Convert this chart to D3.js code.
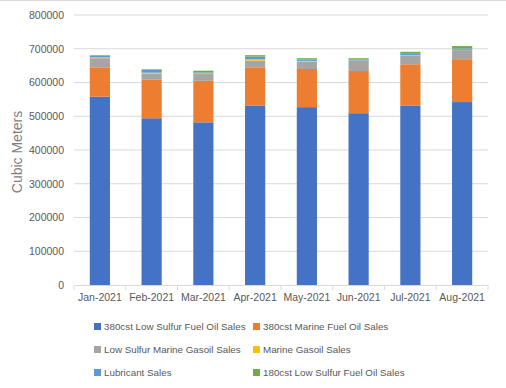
<!DOCTYPE html>
<html>
<head>
<meta charset="utf-8">
<script src="https://cdn.jsdelivr.net/npm/d3@7"></script>
<style>
  body { margin: 0; background: #fff; }
  text { font-family: "Liberation Sans", Arial, sans-serif; }
</style>
</head>
<body>
<svg width="506" height="388"></svg>
<script>
// months along the x axis
const months = ['Jan-2021', 'Feb-2021', 'Mar-2021', 'Apr-2021', 'May-2021', 'Jun-2021', 'Jul-2021', 'Aug-2021'];
// series, bottom to top of each stack
const seriesNames = ['380cst Low Sulfur Fuel Oil Sales', '380cst Marine Fuel Oil Sales',
  'Low Sulfur Marine Gasoil Sales', 'Marine Gasoil Sales', 'Lubricant Sales', '180cst Low Sulfur Fuel Oil Sales'];
const lsfo380 = [558000, 494000, 482000, 532000, 527000, 509000, 532000, 542000];
const mfo380 = [87000, 114000, 123000, 113000, 113000, 125000, 122000, 127000];
const lsmgo = [27000, 18000, 20000, 20000, 22000, 30000, 26000, 27000];
const mgo = [3000, 3000, 2000, 4000, 2000, 1000, 1000, 1000];
const lubricant = [4000, 8000, 3000, 8000, 4000, 3000, 4000, 4000];
const lsfo180 = [2000, 2000, 5000, 4000, 4000, 4000, 6000, 7000];
const yTicks = [0, 100000, 200000, 300000, 400000, 500000, 600000, 700000, 800000];

const colors = ['#4472C4', '#ED7D31', '#A5A5A5', '#FFC000', '#5B9BD5', '#70AD47'];

const svg = d3.select('svg');
const width = +svg.attr('width');
const height = +svg.attr('height');

// thin border across the top
svg.append('line')
  .attr('x1', 0).attr('x2', width).attr('y1', 0.5).attr('y2', 0.5)
  .attr('stroke', '#d9d9d9');

const margin = { left: 74, right: 18, top: 15, bottom: 103 };
const plotW = width - margin.left - margin.right;
const plotH = height - margin.top - margin.bottom;

const g = svg.append('g')
  .attr('transform', `translate(${margin.left},${margin.top})`);

const rows = months.map((m, i) => ({
  month: m,
  s0: lsfo380[i], s1: mfo380[i], s2: lsmgo[i], s3: mgo[i], s4: lubricant[i], s5: lsfo180[i]
}));
const keys = ['s0', 's1', 's2', 's3', 's4', 's5'];
const stacked = d3.stack().keys(keys)(rows);

const x = d3.scaleBand().domain(months).range([0, plotW]).paddingInner(0.61).paddingOuter(0.305);
const y = d3.scaleLinear().domain([0, 800000]).range([plotH, 0]);

// gridlines
g.append('g')
  .selectAll('line')
  .data(yTicks.filter(d => d > 0))
  .join('line')
  .attr('x1', 0).attr('x2', plotW)
  .attr('y1', d => y(d)).attr('y2', d => y(d))
  .attr('stroke', '#d9d9d9');

// y axis labels
const yAxis = g.append('g')
  .call(d3.axisLeft(y).tickValues(yTicks).tickSize(0).tickPadding(10).tickFormat(d3.format('d')));
yAxis.select('.domain').remove();
yAxis.selectAll('text')
  .attr('fill', '#595959')
  .style('font-size', '10.5px');

// bars
g.append('g')
  .selectAll('g')
  .data(stacked)
  .join('g')
  .attr('fill', (d, i) => colors[i])
  .selectAll('rect')
  .data(d => d)
  .join('rect')
  .attr('x', d => x(d.data.month))
  .attr('width', x.bandwidth())
  .attr('y', d => y(d[1]))
  .attr('height', d => y(d[0]) - y(d[1]));

// x axis
const step = x.step();
const xAxis = g.append('g')
  .attr('transform', `translate(0,${plotH})`)
  .call(d3.axisBottom(x).tickSize(0).tickPadding(9));
xAxis.select('.domain').attr('stroke', '#d9d9d9');
xAxis.selectAll('text')
  .attr('fill', '#595959')
  .style('font-size', '10.5px');
// tick marks between the categories
xAxis.append('g')
  .selectAll('line')
  .data(d3.range(months.length + 1))
  .join('line')
  .attr('x1', i => i * step).attr('x2', i => i * step)
  .attr('y1', 0).attr('y2', 5)
  .attr('stroke', '#d9d9d9');

// y axis title
svg.append('text')
  .attr('transform', `translate(22,152) rotate(-90)`)
  .attr('text-anchor', 'middle')
  .attr('fill', '#7f7f7f')
  .style('font-size', '14px')
  .text('Cubic Meters');

// legend, two columns
const legend = svg.append('g');
const item = legend.selectAll('g')
  .data(seriesNames)
  .join('g')
  .attr('transform', (d, i) => `translate(${i % 2 === 0 ? 94 : 253},${327 + Math.floor(i / 2) * 23})`);
item.append('rect')
  .attr('x', 0).attr('y', -4)
  .attr('width', 7).attr('height', 7)
  .attr('fill', (d, i) => colors[i]);
item.append('text')
  .attr('x', 10).attr('y', 0)
  .attr('dy', '0.35em')
  .attr('fill', '#595959')
  .style('font-size', '9.8px')
  .text(d => d);
</script>
</body>
</html>
